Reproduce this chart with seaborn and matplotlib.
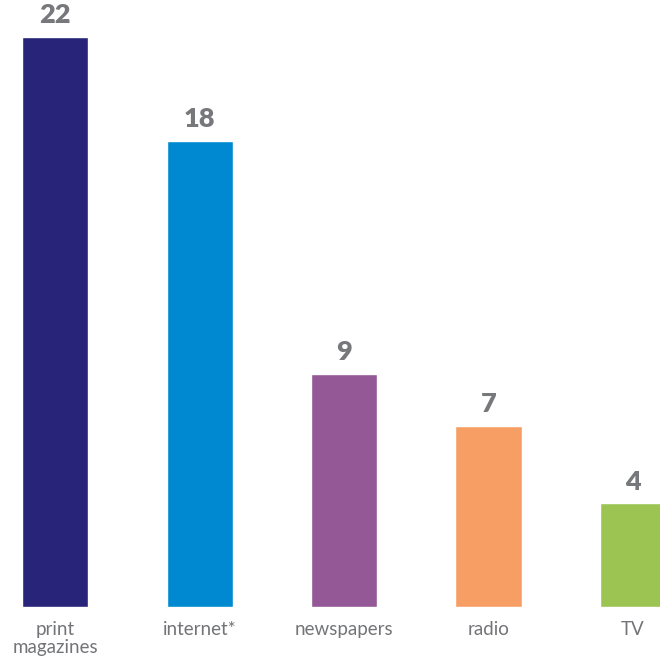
import matplotlib.pyplot as plt
import pandas as pd
import seaborn as sns

# values
categories = ["print\nmagazines", "internet*", "newspapers", "radio", "TV"]
values = [22, 18, 9, 7, 4]
colors = ["#27247a", "#0089d0", "#955897", "#f79e65", "#9bc453"]

df = pd.DataFrame({"category": categories, "value": values})

sns.set_theme(style="white")
plt.rcParams["font.family"] = ["Lato", "DejaVu Sans"]

fig = plt.figure(figsize=(6.6, 6.62), dpi=100)
ax = fig.add_axes([0, 55 / 662, 1, 607 / 662])

sns.barplot(data=df, x="category", y="value", hue="category",
            palette=colors, width=0.457, saturation=1, legend=False, ax=ax)

ax.set_xlim(-0.381, 4.187)
ax.set_ylim(0, 607 / 25.9)
sns.despine(ax=ax, left=True, bottom=True)
ax.set_xlabel("")
ax.set_ylabel("")
ax.set_yticks([])
ax.tick_params(axis="x", length=0, pad=10, labelsize=13.5, labelcolor="#737477")
for lbl in ax.get_xticklabels():
    lbl.set_fontweight("normal")
    lbl.set_linespacing(1.1)

for cont in ax.containers:
    ax.bar_label(cont, padding=7, fontsize=19.5, fontweight="heavy", color="#77787b")

fig.savefig("out.png", dpi=100)
